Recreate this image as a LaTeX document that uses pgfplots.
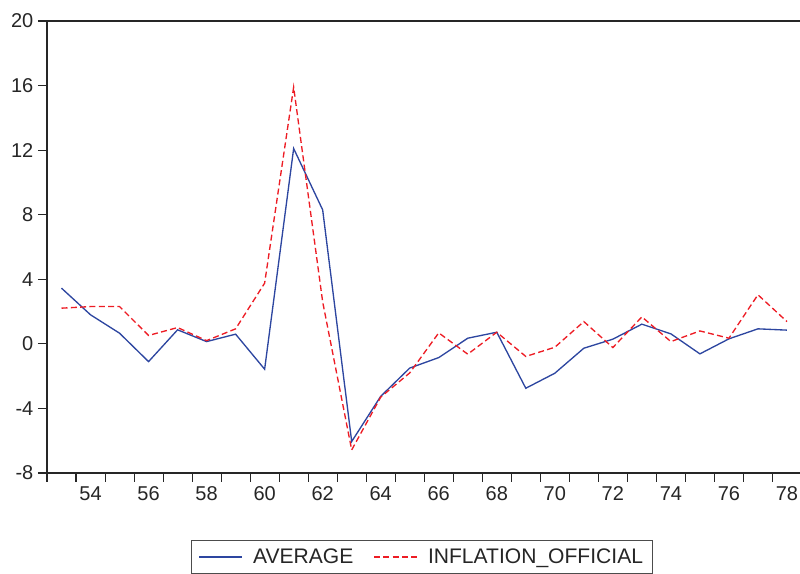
\documentclass[border=0pt]{standalone}
\usepackage{pgfplots}
\pgfplotsset{compat=1.18}
\usepackage{fontspec}
\setmainfont{Liberation Sans}
\definecolor{avgblue}{RGB}{45,70,160}
\definecolor{infred}{RGB}{237,28,36}
\begin{document}
\begin{tikzpicture}
\useasboundingbox (-35.25pt,-75.75pt) rectangle (564.75pt,354.75pt);
\begin{axis}[
  scale only axis,
  width=566pt, height=339pt,
  xmin=52.5, xmax=78.507,
  ymin=-8, ymax=20,
  axis line style={line width=0.9pt, black!85},
  tick align=outside,
  xtick pos=bottom, ytick pos=left,
  major tick length=6.75pt,
  minor tick length=6.75pt,
  xtick={54,56,58,60,62,64,66,68,70,72,74,76,78},
  xticklabels={54,56,58,60,62,64,66,68,70,72,74,76,78},
  major x tick style={draw=none},
  minor xtick={52.5,53.5,...,78.5},
  minor x tick style={line width=0.8pt, black!85},
  ytick={-8,-4,0,4,8,12,16,20},
  yticklabels={-8,-4,0,4,8,12,16,20},
  major y tick style={line width=0.8pt, black!85},
  tick label style={font=\fontsize{15}{18}\selectfont, text=black!85},
  legend columns=2,
  legend style={at={(0.497,-0.149)}, anchor=north, draw=black!70, line width=0.6pt,
    font=\fontsize{15.8}{18}\selectfont, text=black!85,
    inner xsep=5pt, inner ysep=4pt,
    /tikz/every odd column/.append style={column sep=6pt},
    /tikz/every even column/.append style={column sep=13pt}},
  legend image code/.code={\draw[#1] (0pt,0pt) -- (32pt,0pt);},
]
\addplot[avgblue, line width=1pt] coordinates {
(53,3.45) (54,1.8) (55,0.66) (56,-1.1) (57,0.87) (58,0.14) (59,0.6) (60,-1.57)
(61,12.1) (62,8.3) (63,-6.05) (64,-3.25) (65,-1.5) (66,-0.85) (67,0.35) (68,0.72)
(69,-2.75) (70,-1.82) (71,-0.27) (72,0.29) (73,1.22) (74,0.62) (75,-0.62) (76,0.31)
(77,0.93) (78,0.85)
};
\addlegendentry{AVERAGE}
\addplot[infred, line width=1pt, dash pattern=on 4.5pt off 2.5pt] coordinates {
(53,2.21) (54,2.31) (55,2.31) (56,0.52) (57,1.01) (58,0.2) (59,0.93) (60,3.76)
(61,15.9) (62,2.6) (63,-6.57) (64,-3.3) (65,-1.8) (66,0.68) (67,-0.64) (68,0.72)
(69,-0.78) (70,-0.21) (71,1.38) (72,-0.23) (73,1.67) (74,0.14) (75,0.8) (76,0.35)
(77,3.04) (78,1.38)
};
\addlegendentry{INFLATION\_OFFICIAL}
\end{axis}
\end{tikzpicture}
\end{document}
